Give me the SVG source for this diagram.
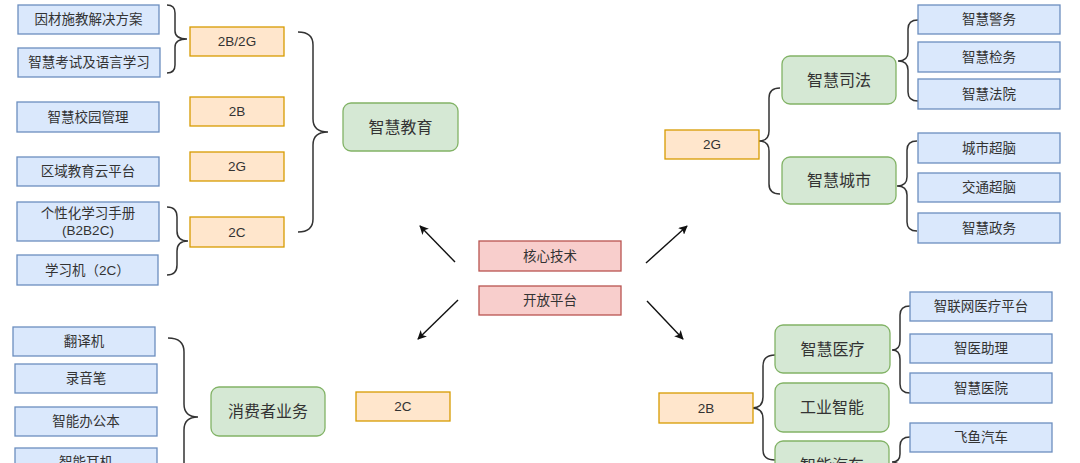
<svg xmlns="http://www.w3.org/2000/svg" width="1080" height="463" viewBox="0 0 1080 463">
<defs>
<style>
.b{fill:#dae8fc;stroke:#6c8ebf;stroke-width:1.3}
.o{fill:#ffe6cc;stroke:#d79b00;stroke-width:1.3}
.g{fill:#d5e8d4;stroke:#82b366;stroke-width:1.3}
.r{fill:#f8cecc;stroke:#b85450;stroke-width:1.3}
text{font-family:"Liberation Sans","Noto Sans CJK SC",sans-serif;fill:#333;text-anchor:middle;dominant-baseline:central}
.s{font-size:13.5px}
.l{font-size:16px}
.br{fill:none;stroke:#333;stroke-width:1.5}
.ar{fill:none;stroke:#111;stroke-width:1.4;marker-end:url(#ah)}
</style>
<marker id="ah" viewBox="0 0 10 10" refX="9" refY="5" markerWidth="9" markerHeight="9" markerUnits="userSpaceOnUse" orient="auto">
<path d="M0,0 L10,5 L0,10 L2.5,5 Z" fill="#111"/>
</marker>
</defs>
<rect width="1080" height="463" fill="#fff"/>

<g id="connectors">
<path class="br" d="M167,5 Q175,5 175,13 V31 Q175,39 187,39 Q175,39 175,47 V65 Q175,73 167,73"/>
<path class="br" d="M167,207 Q177,207 177,217 V231 Q177,241 188,241 Q177,241 177,251 V265 Q177,275 167,275"/>
<path class="br" d="M298,32 Q313,32 313,45 V119 Q313,132 328,132 Q313,132 313,145 V219 Q313,232 298,232"/>
<path class="br" d="M780,88 Q769,88 769,98 V131 Q769,141 759,141 Q769,141 769,151 V184 Q769,194 780,194"/>
<path class="br" d="M918,20 Q908,20 908,29 V52 Q908,61 898,61 Q908,61 908,70 V92 Q908,101 918,101"/>
<path class="br" d="M917,141 Q907,141 907,150 V177 Q907,186 897,186 Q907,186 907,195 V222 Q907,231 917,231"/>
<path class="br" d="M168,338 Q184,338 184,352 V404 Q184,417 198,417 Q184,417 184,430 V490"/>
<path class="br" d="M775,355 Q763,355 763,366 V397 Q763,408 752,408 Q763,408 763,419 V450 Q763,460 775,460"/>
<path class="br" d="M910,306 Q900,306 900,315 V341 Q900,350 892,350 Q900,350 900,359 V384 Q900,393 910,393"/>
<path class="br" d="M910,437 Q900,437 900,446 V454 Q900,462 892,462 Q900,462 900,470"/>
<line class="ar" x1="455" y1="262" x2="420" y2="226"/>
<line class="ar" x1="646" y1="263" x2="687" y2="226"/>
<line class="ar" x1="458" y1="300" x2="418" y2="339"/>
<line class="ar" x1="647" y1="301" x2="683" y2="339"/>
</g>

<g id="n-yincai"><rect class="b" x="18" y="5" width="141" height="29"/><text class="s" x="88.5" y="19.5">因材施教解决方案</text></g>
<g id="n-kaoshi"><rect class="b" x="18" y="48" width="142" height="29"/><text class="s" x="89" y="62.5">智慧考试及语言学习</text></g>
<g id="n-xiaoyuan"><rect class="b" x="17" y="102" width="142" height="30"/><text class="s" x="88" y="117">智慧校园管理</text></g>
<g id="n-quyu"><rect class="b" x="17" y="157" width="142" height="29"/><text class="s" x="88" y="171.5">区域教育云平台</text></g>
<g id="n-shouce"><rect class="b" x="17" y="202" width="142" height="39"/><text class="s" x="88" y="213">个性化学习手册</text><text class="s" x="88" y="230">(B2B2C)</text></g>
<g id="n-xuexiji"><rect class="b" x="17" y="255" width="141" height="30"/><text class="s" x="87.5" y="270">学习机（2C）</text></g>

<g id="n-2b2g"><rect class="o" x="190" y="27" width="94" height="29"/><text class="s" x="237" y="41.5">2B/2G</text></g>
<g id="n-2b-edu"><rect class="o" x="190" y="97" width="94" height="29"/><text class="s" x="237" y="111.5">2B</text></g>
<g id="n-2g-edu"><rect class="o" x="190" y="152" width="94" height="29"/><text class="s" x="237" y="166.5">2G</text></g>
<g id="n-2c-edu"><rect class="o" x="190" y="217" width="94" height="30"/><text class="s" x="237" y="232">2C</text></g>

<g id="n-jiaoyu"><rect class="g" x="343" y="103" width="115" height="48" rx="8"/><text class="l" x="400.5" y="127">智慧教育</text></g>

<g id="n-hexin"><rect class="r" x="479" y="241" width="142" height="30"/><text class="s" x="550" y="256">核心技术</text></g>
<g id="n-kaifang"><rect class="r" x="479" y="286" width="142" height="29"/><text class="s" x="550" y="300.5">开放平台</text></g>

<g id="n-2g"><rect class="o" x="665" y="130" width="94" height="29"/><text class="s" x="712" y="144.5">2G</text></g>
<g id="n-sifa"><rect class="g" x="782" y="56" width="114" height="48" rx="8"/><text class="l" x="839" y="80">智慧司法</text></g>
<g id="n-chengshi"><rect class="g" x="782" y="157" width="114" height="47" rx="8"/><text class="l" x="839" y="180.5">智慧城市</text></g>
<g id="n-jingwu"><rect class="b" x="918" y="5" width="142" height="29"/><text class="s" x="989" y="19.5">智慧警务</text></g>
<g id="n-jianwu"><rect class="b" x="918" y="42" width="142" height="30"/><text class="s" x="989" y="57">智慧检务</text></g>
<g id="n-fayuan"><rect class="b" x="918" y="79" width="142" height="30"/><text class="s" x="989" y="94">智慧法院</text></g>
<g id="n-chaonao"><rect class="b" x="918" y="133" width="142" height="30"/><text class="s" x="989" y="148">城市超脑</text></g>
<g id="n-jiaotong"><rect class="b" x="918" y="173" width="142" height="29"/><text class="s" x="989" y="187.5">交通超脑</text></g>
<g id="n-zhengwu"><rect class="b" x="918" y="213" width="142" height="30"/><text class="s" x="989" y="228">智慧政务</text></g>

<g id="n-fanyi"><rect class="b" x="13" y="327" width="142" height="29"/><text class="s" x="84" y="341.5">翻译机</text></g>
<g id="n-luyin"><rect class="b" x="15" y="364" width="142" height="29"/><text class="s" x="86" y="378.5">录音笔</text></g>
<g id="n-bangong"><rect class="b" x="15" y="407" width="142" height="29"/><text class="s" x="86" y="421.5">智能办公本</text></g>
<g id="n-erji"><rect class="b" x="15" y="448" width="142" height="29"/><text class="s" x="86" y="462.5">智能耳机</text></g>
<g id="n-xiaofei"><rect class="g" x="211" y="387" width="114" height="49" rx="8"/><text class="l" x="268" y="411.5">消费者业务</text></g>
<g id="n-2c"><rect class="o" x="356" y="392" width="94" height="29"/><text class="s" x="403" y="406.5">2C</text></g>

<g id="n-2b"><rect class="o" x="659" y="393" width="94" height="30"/><text class="s" x="706" y="408">2B</text></g>
<g id="n-yiliao"><rect class="g" x="775" y="325" width="115" height="48" rx="8"/><text class="l" x="832.5" y="349">智慧医疗</text></g>
<g id="n-gongye"><rect class="g" x="775" y="383" width="114" height="49" rx="8"/><text class="l" x="832" y="407.5">工业智能</text></g>
<g id="n-qiche"><rect class="g" x="775" y="441" width="114" height="48" rx="8"/><text class="l" x="832" y="465">智能汽车</text></g>
<g id="n-zhilian"><rect class="b" x="910" y="292" width="142" height="29"/><text class="s" x="981" y="306.5">智联网医疗平台</text></g>
<g id="n-zhuli"><rect class="b" x="910" y="334" width="142" height="29"/><text class="s" x="981" y="348.5">智医助理</text></g>
<g id="n-yiyuan"><rect class="b" x="910" y="373" width="142" height="30"/><text class="s" x="981" y="388">智慧医院</text></g>
<g id="n-feiyu"><rect class="b" x="910" y="423" width="142" height="29"/><text class="s" x="981" y="437.5">飞鱼汽车</text></g>
</svg>
